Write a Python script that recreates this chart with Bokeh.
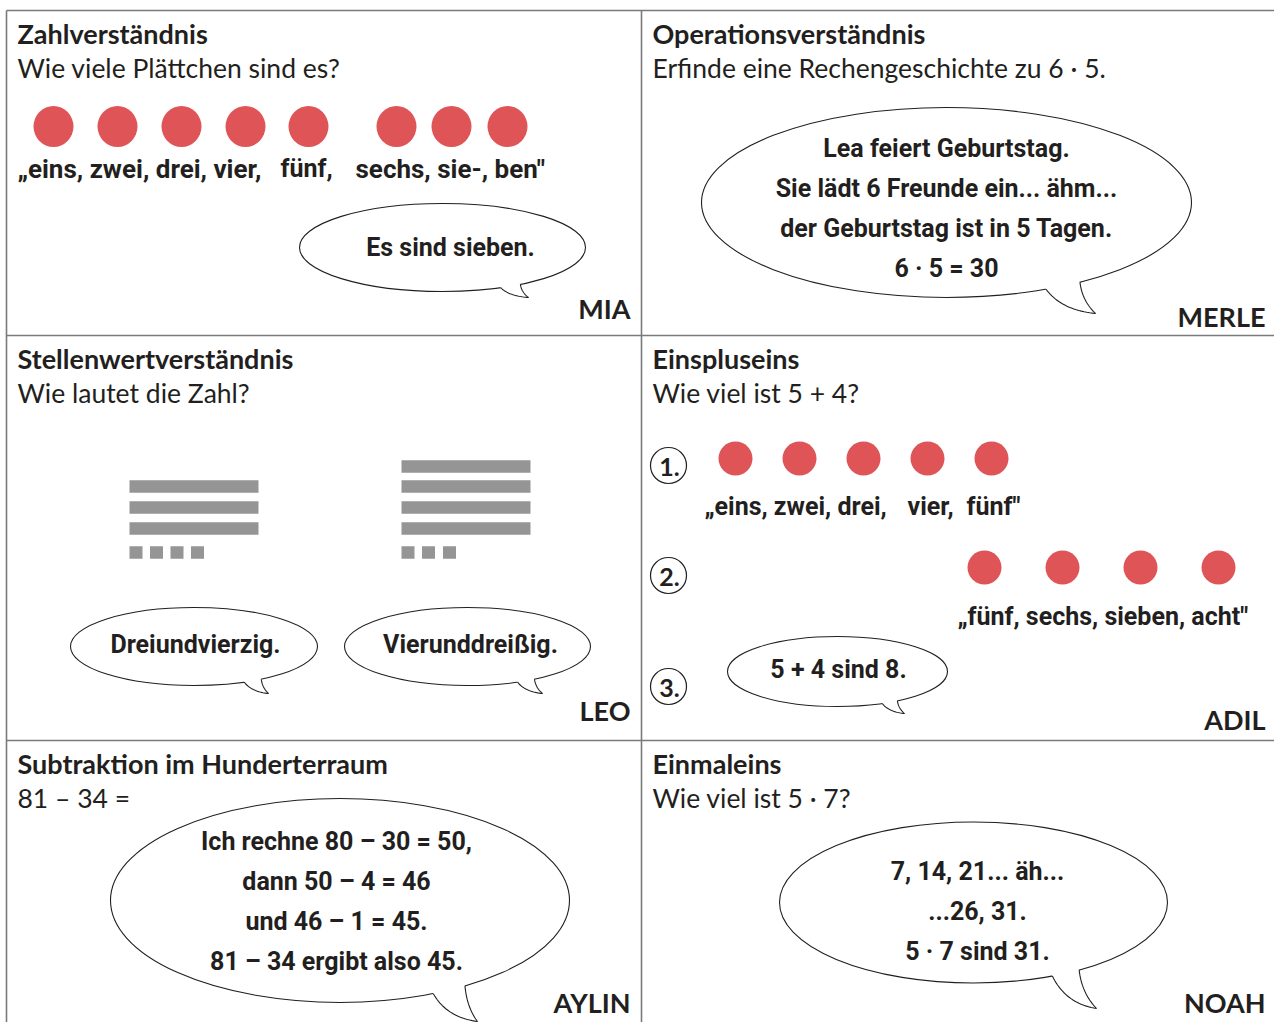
import numpy as np
from bokeh.plotting import figure
from bokeh.models import Range1d
from bokeh.embed import file_html
from bokeh.resources import INLINE
from bokeh.core.properties import value

# ---------------- data ----------------
W, H = 1274, 1022
INK = "#231f20"
RED = "#df5457"
GRAY = "#959595"
LINE = "#7a7a7a"

headers = ["Zahlverständnis", "Operationsverständnis", "Stellenwertverständnis",
           "Einspluseins", "Subtraktion im Hunderterraum", "Einmaleins"]
header_x = [17, 652, 17, 652, 17, 652]
header_y = [33, 33, 358, 358, 763, 763]

tasks = ["Wie viele Plättchen sind es?", "Erfinde eine Rechengeschichte zu 6 · 5.",
         "Wie lautet die Zahl?", "Wie viel ist 5 + 4?", "81 – 34 =", "Wie viel ist 5 · 7?"]
task_y = [67.5, 67.5, 392.5, 392.5, 797.5, 797.5]

names = ["MIA", "MERLE", "LEO", "ADIL", "AYLIN", "NOAH"]
name_x = [630, 1265, 630, 1265, 630, 1265]
name_y = [308, 316, 710, 719, 1002, 1002]

# counting chips
p1_dot_x = [53, 117, 181, 245, 308, 396, 451, 507]
p1_dot_y = 126
p4_row1_x = [735, 799, 863, 927, 991]
p4_row1_y = 458
p4_row2_x = [984, 1062, 1140, 1218]
p4_row2_y = 567

count_words = ["„eins, zwei, drei, vier,", "fünf,", "sechs, sie-, ben\"",
               "„eins, zwei, drei,", "vier,", "fünf\"", "„fünf, sechs, sieben, acht\""]
count_x = [17, 280, 355, 704, 907, 966, 957]
count_y = [168, 168, 168, 506, 506, 506, 616]
count_size = ["26px", "25px", "26px", "25px", "25px", "25px", "25px"]

# place value material: tens (bars) and ones (squares)
tens_left_y = [486, 507, 528]
ones_left_x = [135.5, 156, 176.5, 197]
tens_right_y = [466, 486, 507, 528]
ones_right_x = [407.5, 428, 449]
ones_y = 552

# speech bubbles: centre x, centre y, width, height, tail tip
bub_cx = [442, 946, 193.5, 467, 837, 339.5, 973]
bub_cy = [247, 202, 646, 646, 671, 900, 902]
bub_w = [286, 490, 247, 246, 220, 459, 388]
bub_h = [88, 190, 78, 78, 70, 204, 161]
tip_x = [528, 1095, 268, 542, 904, 477, 1096]
tip_y = [297, 313, 693, 693, 713, 1021, 1008]

speech = [
    ["Es sind sieben."],
    ["Lea feiert Geburtstag.", "Sie lädt 6 Freunde ein... ähm...",
     "der Geburtstag ist in 5 Tagen.", "6 · 5 = 30"],
    ["Dreiundvierzig."],
    ["Vierunddreißig."],
    ["5 + 4 sind 8."],
    ["Ich rechne 80 – 30 = 50,", "dann 50 – 4 = 46", "und 46 – 1 = 45.",
     "81 – 34 ergibt also 45."],
    ["7, 14, 21... äh...", "...26, 31.", "5 · 7 sind 31."],
]
speech_x = [450, 946, 195, 470, 838, 336, 977]
speech_y0 = [247, 148, 644, 644, 669, 841, 871]
LINE_STEP = 40

steps = ["1.", "2.", "3."]
step_x = 668
step_y = [465, 575, 686]

# ---------------- figure ----------------
p = figure(width=W, height=H, x_range=Range1d(0, W), y_range=Range1d(H, 0),
           output_backend="svg", toolbar_location=None, min_border=0,
           x_axis_location=None, y_axis_location=None)
p.grid.visible = False
p.outline_line_color = None
p.background_fill_color = "white"
p.border_fill_color = "white"

# frame lines
p.segment(x0=[6, 6, 641, 6, 6], y0=[10, 10, 10, 335, 740],
          x1=[1274, 6, 641, 1274, 1274], y1=[10, 1022, 1022, 335, 740],
          line_color=LINE, line_width=1.6)

TITLE_FONT = value("Lato")
SPEECH_FONT = value("Roboto")

p.text(x=header_x, y=header_y, text=headers, text_font=TITLE_FONT, text_font_style="bold",
       text_font_size="27px", text_color=INK, text_baseline="middle", text_align="left")
p.text(x=header_x, y=task_y, text=tasks, text_font=TITLE_FONT,
       text_font_size="26.5px", text_color=INK, text_baseline="middle", text_align="left")
p.text(x=name_x, y=name_y, text=names, text_font=TITLE_FONT, text_font_style="bold",
       text_font_size="27px", text_color=INK, text_baseline="middle", text_align="right")

# chips
p.ellipse(x=p1_dot_x, y=[p1_dot_y] * len(p1_dot_x), width=40, height=41,
          fill_color=RED, line_color=None)
p.ellipse(x=p4_row1_x, y=[p4_row1_y] * len(p4_row1_x), width=34, height=34,
          fill_color=RED, line_color=None)
p.ellipse(x=p4_row2_x, y=[p4_row2_y] * len(p4_row2_x), width=34, height=34,
          fill_color=RED, line_color=None)

p.text(x=count_x, y=count_y, text=count_words, text_font=SPEECH_FONT, text_font_style="bold",
       text_font_size=count_size, text_color=INK, text_baseline="middle", text_align="left")

# place value blocks
p.rect(x=[193.5] * 3, y=tens_left_y, width=129, height=12.5, fill_color=GRAY, line_color=None)
p.rect(x=ones_left_x, y=[ones_y] * 4, width=13, height=12.5, fill_color=GRAY, line_color=None)
p.rect(x=[465.5] * 4, y=tens_right_y, width=129, height=12.5, fill_color=GRAY, line_color=None)
p.rect(x=ones_right_x, y=[ones_y] * 3, width=13, height=12.5, fill_color=GRAY, line_color=None)

# step markers
p.ellipse(x=[step_x] * 3, y=step_y, width=36, height=36, fill_color="white",
          line_color=INK, line_width=1.2)
p.text(x=[step_x + 1] * 3, y=[v + 1 for v in step_y], text=steps, text_font=TITLE_FONT,
       text_font_style="bold", text_font_size="25px", text_color=INK,
       text_baseline="middle", text_align="center")


def bez(a, c, b, n=24):
    t = np.linspace(0, 1, n)
    x = (1 - t) ** 2 * a[0] + 2 * (1 - t) * t * c[0] + t ** 2 * b[0]
    y = (1 - t) ** 2 * a[1] + 2 * (1 - t) * t * c[1] + t ** 2 * b[1]
    return x, y


# speech bubbles
p.ellipse(x=bub_cx, y=bub_cy, width=bub_w, height=bub_h, fill_color="white",
          line_color=INK, line_width=1.1)
for cx, cy, w, h, tx, ty in zip(bub_cx, bub_cy, bub_w, bub_h, tip_x, tip_y):
    aL, aR = np.radians(66), np.radians(57)
    L = (cx + w / 2 * np.cos(aL), cy + h / 2 * np.sin(aL))
    R = (cx + w / 2 * np.cos(aR), cy + h / 2 * np.sin(aR))
    Li = (cx + (w / 2 - 6) * np.cos(aL), cy + (h / 2 - 6) * np.sin(aL))
    Ri = (cx + (w / 2 - 6) * np.cos(aR), cy + (h / 2 - 6) * np.sin(aR))
    T = (tx, ty)
    cL = (L[0] + 0.3 * (T[0] - L[0]), L[1] + 0.85 * (T[1] - L[1]))
    cR = (R[0] + 0.15 * (T[0] - R[0]), R[1] + 0.6 * (T[1] - R[1]))
    lx, ly = bez(L, cL, T)
    rx, ry = bez(R, cR, T)
    px = [Li[0]] + list(lx) + list(rx[::-1]) + [Ri[0]]
    py = [Li[1]] + list(ly) + list(ry[::-1]) + [Ri[1]]
    p.patch(px, py, fill_color="white", line_color=None)
    p.line(lx, ly, line_color=INK, line_width=1.1)
    p.line(rx, ry, line_color=INK, line_width=1.1)

sx, sy, st = [], [], []
for lines, x0, y0 in zip(speech, speech_x, speech_y0):
    for i, s in enumerate(lines):
        sx.append(x0)
        sy.append(y0 + i * LINE_STEP)
        st.append(s)
p.text(x=sx, y=sy, text=st, text_font=SPEECH_FONT, text_font_style="bold",
       text_font_size="25px", text_color=INK, text_baseline="middle", text_align="center")

open("out.html", "w").write(file_html(p, INLINE))
